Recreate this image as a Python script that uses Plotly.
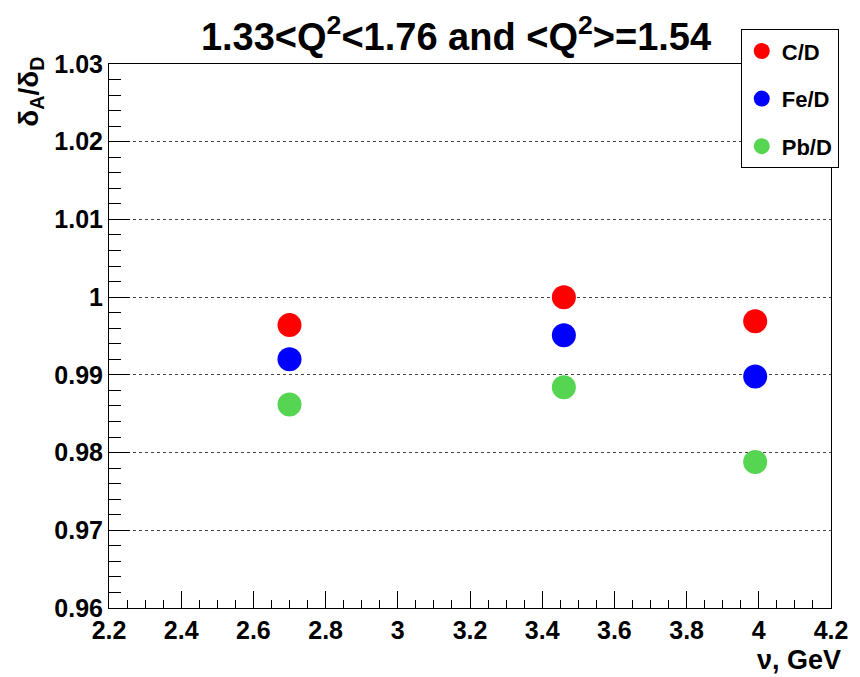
import plotly.graph_objects as go

# Data
nu = [2.70, 3.46, 3.99]
series_names = ["C/D", "Fe/D", "Pb/D"]
c_d = [0.9964, 1.0000, 0.9969]
fe_d = [0.9920, 0.9951, 0.9898]
pb_d = [0.9862, 0.9884, 0.9788]
colors = ["#ff0000", "#0000ff", "#55d552"]

title_text = "1.33&lt;Q<sup>2</sup>&lt;1.76 and &lt;Q<sup>2</sup>&gt;=1.54"
x_title = "ν, GeV"
y_title = "δ<sub>A</sub>/δ<sub>D</sub>"

FONT = "Liberation Sans, Arial, Helvetica, sans-serif"

fig = go.Figure()
for i, (name, vals) in enumerate(zip(series_names, [c_d, fe_d, pb_d])):
    fig.add_trace(go.Scatter(
        x=nu, y=vals, mode="markers", name=name, legendgroup=name,
        marker=dict(color=colors[i], size=24, line=dict(width=0)),
    ))

fig.update_layout(
    width=860, height=677,
    margin=dict(l=109, r=23, t=64, b=69),
    paper_bgcolor="white", plot_bgcolor="white",
    font=dict(family=FONT, color="black", size=22, weight="bold"),
    title=dict(text=title_text, x=456 / 860, xref="container", xanchor="center",
               y=1 - 37 / 677, yref="container", yanchor="middle",
               font=dict(family=FONT, size=38, weight="bold", color="black")),
    showlegend=True,
    legend=dict(x=0.875, y=1.064, xanchor="left", yanchor="top",
                bordercolor="black", borderwidth=1, bgcolor="white",
                font=dict(family=FONT, size=22, weight="bold", color="black"),
                tracegroupgap=16, itemwidth=30),
)

fig.update_xaxes(
    range=[2.2, 4.2], dtick=0.2, tick0=2.2,
    showline=True, linecolor="black", linewidth=1, mirror=True,
    ticks="inside", ticklen=17, tickcolor="black", tickwidth=1,
    minor=dict(ticks="inside", ticklen=8, dtick=0.05, tickcolor="black", showgrid=False),
    showgrid=False, zeroline=False,
    tickfont=dict(family=FONT, size=25, weight="bold", color="black"),
)
fig.update_yaxes(
    range=[0.96, 1.03], dtick=0.01, tick0=0.96,
    showline=True, linecolor="black", linewidth=1, mirror=True,
    ticks="inside", ticklen=21, tickcolor="black", tickwidth=1,
    minor=dict(ticks="inside", ticklen=12, dtick=0.002, tickcolor="black", showgrid=False),
    showgrid=True, gridcolor="#444444", griddash="dot", gridwidth=1,
    zeroline=False,
    tickfont=dict(family=FONT, size=25, weight="bold", color="black"),
)

fig.add_annotation(text=x_title, xref="paper", yref="paper",
                   x=(849 - 109) / 728, y=(608 - 660) / 544,
                   xanchor="right", yanchor="middle", showarrow=False,
                   font=dict(family=FONT, size=27, color="black"))
fig.add_annotation(text=y_title, xref="paper", yref="paper",
                   x=(30 - 109) / 728, y=(608 - 55) / 544,
                   xanchor="center", yanchor="top", textangle=-90, showarrow=False,
                   font=dict(family=FONT, size=28, color="black"))

fig.write_html("out.html")
